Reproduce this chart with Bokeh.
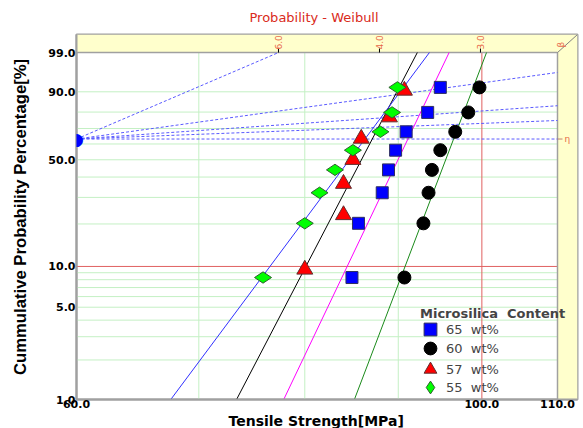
import numpy as np
from bokeh.plotting import figure
from bokeh.models import (FixedTicker, PrintfTickFormatter, CustomJSTickFormatter,
                          Label, Legend, LegendItem, Range1d, Title)
from bokeh.core.properties import value
from bokeh.embed import file_html
from bokeh.resources import INLINE

# ---------------- data ----------------
pct_8 = [8.3, 20.2, 32.1, 44.0, 56.0, 67.9, 79.8, 91.7]
pct_7 = [9.5, 23.0, 36.5, 50.0, 63.5, 77.0, 90.5]
strength_65 = [84.9, 85.6, 88.2, 88.9, 89.7, 90.9, 93.4, 94.9]
strength_60 = [90.7, 92.9, 93.5, 93.9, 94.9, 96.7, 98.3, 99.7]
strength_57 = [80.0, 84.0, 84.0, 85.0, 85.9, 89.0, 90.7]
strength_55 = [75.9, 80.0, 81.5, 83.1, 85.0, 88.0, 89.3, 89.9]
series_labels = ["65  wt%", "60  wt%", "57  wt%", "55  wt%"]
legend_title = "Microsilica  Content"
# fitted Weibull lines (shape beta, scale eta) for 65, 60, 57, 55 wt%
fit_beta = [29.4, 36.8, 26.9, 18.8]
fit_eta = [91.1, 96.5, 87.1, 86.3]
fit_colors = ["#ff00ff", "#1a8a1a", "#000000", "#3030ff"]
# slope-estimation lines from the eta pivot
pivot_betas = [6.0, 1.94, 0.97, 0.54, 0.0]
beta_ticks = [6.0, 4.0, 3.0]
beta_tick_labels = ["6.0", "4.0", "3.0"]
x_ticks = [60, 100, 110]
y_tick_pct = [1, 5, 10, 50, 90, 99]
x_grid = [70, 80, 90]
x_red = [100]
y_grid_pct = [2, 3, 4, 5, 6, 7, 8, 9, 20, 30, 40, 50, 60, 70, 80, 90]
y_red_pct = [10]
x_min, x_max = 60.0, 110.0
p_min, p_max = 1.0, 99.0


def wt(pct):
    return np.log(-np.log(1.0 - np.asarray(pct, dtype=float) / 100.0))


t_lo, t_hi = float(wt(p_min)), float(wt(p_max))
band_r, band_t = 20, 18
inner_w, inner_h = 481, 346
lx = np.log(x_max / x_min)
x_end = x_max * np.exp(band_r / inner_w * lx)
y_end = t_hi + band_t / inner_h * (t_hi - t_lo)
px_t = (t_hi - t_lo) / inner_h  # one pixel in t units

p = figure(width=583, height=428, x_axis_type="log",
           x_range=Range1d(x_min, x_end), y_range=Range1d(t_lo, y_end),
           output_backend="svg", toolbar_location=None,
           min_border_left=76, min_border_right=6, min_border_top=34, min_border_bottom=26)
p.title.text = "Probability - Weibull"
p.title.align = "left"
p.title.offset = 173
p.title.standoff = 16
p.title.vertical_align = "top"
p.title.text_color = "#d92a20"
p.title.text_font = "DejaVu Sans"
p.title.text_font_size = "13px"
p.title.text_font_style = "normal"
p.xgrid.visible = False
p.ygrid.visible = False
p.outline_line_color = "#a0a0a0"
p.outline_line_width = 2

p.xaxis.ticker = FixedTicker(ticks=x_ticks)
p.xaxis.formatter = PrintfTickFormatter(format="%.1f")
p.yaxis.ticker = FixedTicker(ticks=[float(v) for v in wt(y_tick_pct)])
p.yaxis.formatter = CustomJSTickFormatter(
    code="return (100*(1-Math.exp(-Math.exp(tick)))).toFixed(1);")
for ax in (p.xaxis[0], p.yaxis[0]):
    ax.axis_line_color = "#a0a0a0"
    ax.axis_line_width = 2
    ax.major_tick_line_color = None
    ax.minor_tick_line_color = None
    ax.major_tick_out = 0
    ax.major_tick_in = 0
    ax.minor_tick_out = 0
    ax.minor_tick_in = 0
    ax.major_label_text_font = "DejaVu Sans"
    ax.major_label_text_font_size = "11px"
    ax.major_label_text_font_style = "bold"
    ax.major_label_text_color = "black"
p.xaxis.major_label_standoff = 0
p.yaxis.major_label_standoff = 1
p.yaxis.axis_label = "Cummulative Probability Percentage[%]"
p.yaxis.axis_label_standoff = 15
p.yaxis.axis_label_text_font = "Liberation Sans"
p.yaxis.axis_label_text_font_size = "16.7px"
p.yaxis.axis_label_text_font_style = "bold"
p.yaxis.axis_label_text_color = "black"

xlab = Title(text="Tensile Strength[MPa]", align="left", offset=152, standoff=0,
             text_font="DejaVu Sans", text_font_size="14px",
             text_font_style="bold", text_color="black")
p.add_layout(xlab, "below")

# yellow 3D band (top and right)
p.patch([x_min, x_max, x_max, x_end, x_end, x_min],
        [t_hi, t_hi, t_lo, t_lo, y_end, y_end],
        fill_color="#ffffcc", line_color=None)

# grid lines
n = len(x_grid)
p.segment(x0=x_grid, y0=[t_lo] * n, x1=x_grid, y1=[t_hi] * n,
          line_color="#c4f0c4", line_width=1)
yg = wt(y_grid_pct)
p.segment(x0=[x_min] * len(yg), y0=yg, x1=[x_max] * len(yg), y1=yg,
          line_color="#c4f0c4", line_width=1)
p.segment(x0=x_red, y0=[t_lo], x1=x_red, y1=[t_hi], line_color="#e06060", line_width=1)
yr = wt(y_red_pct)
p.segment(x0=[x_min], y0=yr, x1=[x_max], y1=yr, line_color="#e06060", line_width=1)

# inner frame + diagonal
p.line([x_min, x_max, x_max], [t_hi, t_hi, t_lo], line_color="#a0a0a0", line_width=1.5)
p.line([x_max, x_end], [t_hi, y_end], line_color="#808080", line_width=1)

# beta scale ticks and labels
bx = [x_min * np.exp(t_hi / b) for b in beta_ticks]
p.segment(x0=bx, y0=[t_hi] * 3, x1=bx, y1=[t_hi + 4 * px_t] * 3,
          line_color="black", line_width=1)
p.text(x=bx, y=[t_hi] * 3, text=beta_tick_labels, angle=np.pi / 2,
       text_align="left", text_baseline="middle", y_offset=-3,
       text_font=value("DejaVu Sans"), text_font_size="9px", text_color="#e8684a")
p.text(x=[x_max], y=[t_hi], text=["β"], angle=np.pi / 2, text_align="left",
       text_baseline="middle", x_offset=3, y_offset=-5,
       text_font=value("DejaVu Sans"), text_font_size="9px", text_color="#e8684a")
p.text(x=[x_max], y=[0.0], text=["η"], text_align="left", text_baseline="middle",
       x_offset=7, text_font=value("DejaVu Sans"), text_font_size="9px",
       text_color="#e8684a")
p.segment(x0=[x_max], y0=[0.0], x1=[x_max * np.exp(5 / inner_w * lx)], y1=[0.0],
          line_color="#c08070", line_width=1)

# pivot slope lines
px1, py1 = [], []
for b in pivot_betas:
    if b > 0 and x_min * np.exp(t_hi / b) <= x_max:
        px1.append(x_min * np.exp(t_hi / b)); py1.append(t_hi)
    else:
        px1.append(x_max); py1.append(b * lx)
m = len(pivot_betas)
p.segment(x0=[x_min] * m, y0=[0.0] * m, x1=px1, y1=py1,
          line_color="#5a5aff", line_width=1, line_dash="3 2")

# fitted lines
for b, e, c in zip(fit_beta, fit_eta, fit_colors):
    ts = [t_lo, t_hi]
    p.line([e * np.exp(t / b) for t in ts], ts, line_color=c, line_width=1)

# data markers
r65 = p.scatter(strength_65, wt(pct_8), marker="square", size=12,
                fill_color="#0000ff", line_color="#303060", line_width=1)
r60 = p.scatter(strength_60, wt(pct_8), marker="circle", size=13,
                fill_color="#000000", line_color="#000000")
r57 = p.scatter(strength_57, wt(pct_7), marker="triangle", size=16,
                fill_color="#ff0000", line_color="#603030", line_width=1)
r55 = p.scatter(strength_55, wt(pct_8), marker="diamond", angle=np.pi / 2, size=17,
                fill_color="#00ff00", line_color="#306030", line_width=1)
r_none = p.scatter(x=[], y=[], marker="circle", size=1, fill_alpha=0, line_alpha=0)

# pivot point
p.add_layout(Label(x=x_min, y=0.0, text="●", text_color="#0000ff",
                   text_font="DejaVu Sans", text_font_size="17px",
                   text_align="center", text_baseline="middle"))

common = dict(label_text_font="DejaVu Sans", label_text_font_size="13px",
              glyph_width=32, glyph_height=32, padding=0, margin=0,
              label_standoff=0, background_fill_alpha=0, border_line_color=None)
legend_a = Legend(items=[LegendItem(label=series_labels[0], renderers=[r65]),
                         LegendItem(label=series_labels[2], renderers=[r57])],
                  location=(338, 14), spacing=8, **common)
legend_b = Legend(items=[LegendItem(label=series_labels[1], renderers=[r60]),
                         LegendItem(label=series_labels[3], renderers=[r55])],
                  location=(338, -4), spacing=7, **common)
legend_t = Legend(items=[LegendItem(label=legend_title, renderers=[r_none])],
                  location=(344, 78), label_text_font="DejaVu Sans",
                  label_text_font_size="13px", label_text_font_style="bold",
                  glyph_width=0, glyph_height=14, label_height=14, padding=0, margin=0,
                  label_standoff=0, background_fill_alpha=0, border_line_color=None)
p.add_layout(legend_a)
p.add_layout(legend_b)
p.add_layout(legend_t)

open("out.html", "w").write(file_html(p, INLINE))
